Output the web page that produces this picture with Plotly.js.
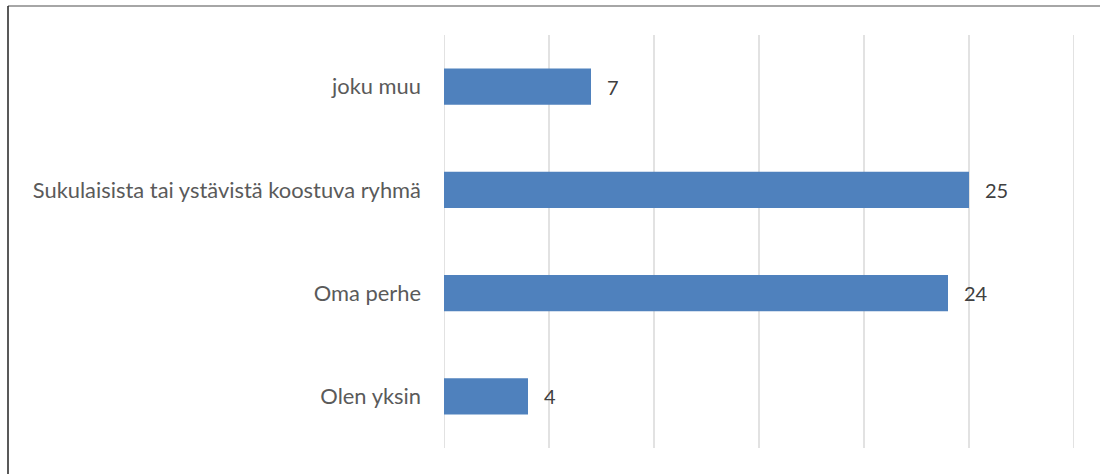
<!DOCTYPE html>
<html>
<head>
<meta charset="utf-8">
<script src="https://cdn.plot.ly/plotly-3.0.1.min.js"></script>
<style>html,body{margin:0;padding:0;background:#fff;}#chart{width:1100px;height:474px;}</style>
</head>
<body>
<div id="chart"></div>
<script>
const categories = ["Olen yksin", "Oma perhe", "Sukulaisista tai ystävistä koostuva ryhmä", "joku muu"];
const values = [4, 24, 25, 7];
const tickValues = [0, 5, 10, 15, 20, 25, 30];

const fontFamily = "Lato, Open Sans, sans-serif";

const trace = {
  type: "bar",
  orientation: "h",
  y: categories,
  x: values,
  marker: {color: "#4F81BD", line: {width: 0}},
  hoverinfo: "none"
};

const annotations = categories.map((c, i) => ({
  x: values[i], y: c, xref: "x", yref: "y",
  text: String(values[i]), showarrow: false,
  xanchor: "left", yanchor: "middle", xshift: 14,
  font: {family: fontFamily, size: 20, color: "#404040"}
}));

const gridShapes = tickValues.map(v => ({
  type: "line", layer: "below", xref: "x", yref: "paper",
  x0: v, x1: v, y0: 0, y1: 1,
  line: {color: "#d9d9d9", width: 1.5}
}));

const layout = {
  width: 1100, height: 474,
  margin: {l: 444, r: 26, t: 35, b: 26},
  paper_bgcolor: "#ffffff", plot_bgcolor: "rgba(0,0,0,0)",
  showlegend: false,
  bargap: 0.65,
  xaxis: {
    range: [0, 30], showticklabels: false, showgrid: false,
    zeroline: false, showline: false, fixedrange: true
  },
  yaxis: {
    type: "category", categoryorder: "array", categoryarray: categories,
    showgrid: false, zeroline: false, showline: false,
    ticks: "", ticklabelstandoff: 22,
    tickfont: {family: fontFamily, size: 21.9, color: "#5a5a5a"}
  },
  annotations: annotations,
  shapes: gridShapes.concat([
    {type: "line", xref: "paper", yref: "paper", x0: (8 - 444) / 630, x1: (1100 - 444) / 630, y0: (474 - 26 - 6) / 413, y1: (474 - 26 - 6) / 413, line: {color: "#888888", width: 1.5}},
    {type: "line", xref: "paper", yref: "paper", x0: (8 - 444) / 630, x1: (8 - 444) / 630, y0: (474 - 26 - 6) / 413, y1: -26 / 413, line: {color: "#222222", width: 1.5}}
  ])
};

Plotly.newPlot("chart", [trace], layout, {displayModeBar: false, staticPlot: true});
</script>
</body>
</html>
